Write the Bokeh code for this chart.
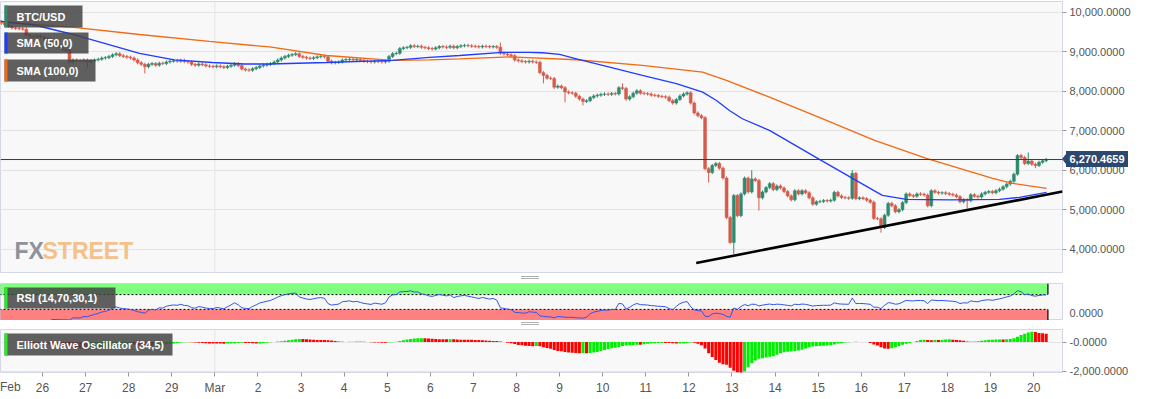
import numpy as np
import pandas as pd
from bokeh.plotting import figure
from bokeh.models import (Range1d, FixedTicker, NumeralTickFormatter, Span, Label,
                          BoxAnnotation, ColumnDataSource, Div)
from bokeh.layouts import column
from bokeh.embed import file_html
from bokeh.resources import INLINE

# ---------------- data (2-hour candles, closes) ----------------
c_feb25 = [9720, 9680, 9640, 9600, 9590, 9580, 9570, 9420, 9390, 9380, 9400, 9370]
c_feb26 = [9340, 9300, 9250, 9200, 9120, 9060, 9030, 8740, 8790, 8770, 8760, 8790]
c_feb27 = [8740, 8770, 8790, 8810, 8840, 8850, 8880, 8920, 8950, 8900, 8880, 8860]
c_feb28 = [8840, 8790, 8720, 8680, 8620, 8680, 8700, 8660, 8710, 8700, 8740, 8760]
c_feb29 = [8770, 8760, 8780, 8750, 8740, 8680, 8660, 8690, 8670, 8640, 8630, 8620]
c_mar01 = [8640, 8620, 8600, 8630, 8660, 8700, 8650, 8560, 8540, 8530, 8570, 8600]
c_mar02 = [8640, 8660, 8680, 8700, 8740, 8790, 8840, 8880, 8910, 8930, 8950, 8880]
c_mar03 = [8860, 8840, 8830, 8850, 8870, 8880, 8870, 8760, 8720, 8730, 8740, 8790]
c_mar04 = [8800, 8810, 8790, 8800, 8780, 8760, 8750, 8740, 8760, 8750, 8740, 8760]
c_mar05 = [8880, 8950, 8960, 9080, 9100, 9110, 9150, 9130, 9140, 9110, 9100, 9080]
c_mar06 = [9070, 9100, 9130, 9120, 9110, 9140, 9100, 9130, 9150, 9160, 9150, 9140]
c_mar07 = [9130, 9120, 9140, 9130, 9120, 9130, 9110, 8960, 8940, 8920, 8900, 8790]
c_mar08 = [8770, 8750, 8740, 8760, 8740, 8730, 8470, 8400, 8330, 8320, 8100, 8130]
c_mar09 = [8090, 7980, 7960, 7950, 7870, 7800, 7740, 7760, 7840, 7880, 7900, 7920]
c_mar10 = [7930, 7920, 7940, 7930, 8090, 8070, 7800, 7860, 7950, 8010, 7950, 7940]
c_mar11 = [7930, 7900, 7890, 7870, 7860, 7850, 7760, 7700, 7790, 7880, 7930, 7960]
c_mar12 = [7700, 7450, 7380, 7330, 6040, 5940, 6120, 6170, 6050, 5800, 4800, 4170]
c_mar13 = [5360, 4850, 5400, 5800, 5450, 5780, 5740, 5300, 5450, 5560, 5660, 5510]
c_mar14 = [5600, 5550, 5460, 5350, 5250, 5480, 5400, 5480, 5430, 5300, 5140, 5200]
c_mar15 = [5210, 5230, 5220, 5240, 5440, 5350, 5310, 5300, 5290, 5920, 5280, 5300]
c_mar16 = [5280, 5240, 5190, 4780, 4770, 4550, 4860, 5160, 5100, 4950, 5000, 5180]
c_mar17 = [5400, 5360, 5340, 5400, 5390, 5370, 5100, 5480, 5440, 5420, 5430, 5410]
c_mar18 = [5390, 5370, 5330, 5200, 5250, 5230, 5380, 5340, 5320, 5400, 5440, 5460]
c_mar19 = [5430, 5480, 5520, 5580, 5650, 5720, 5900, 6370, 6320, 6170, 6230, 6150]
c_mar20 = [6120, 6200, 6240, 6270.4659]
first_open = 9760

# notable wicks (candle index -> price)
wick_high = {139: 9230, 173: 8200, 209: 6000, 237: 6000, 286: 6450}
wick_low = {24: 8580, 40: 8450, 151: 8200, 157: 7720, 162: 7640, 197: 5690,
            204: 3880, 211: 4980, 245: 4420, 269: 5030, 288: 6050}

# moving averages (days since Feb 25, price)
sma50_days = [0.00, 0.81, 1.62, 2.44, 3.25, 4.06, 4.94, 5.69, 6.27, 7.59, 9.12, 9.98,
              10.68, 11.67, 12.30, 12.60, 13.00, 13.39, 14.16, 14.92, 15.71, 16.32,
              16.64, 16.94, 17.24, 17.87, 18.27, 19.03, 19.96, 20.49, 21.05, 22.05,
              23.21, 23.67, 24.30]
sma50_vals = [9777, 9676, 9461, 9208, 8955, 8791, 8727, 8689, 8689, 8727, 8778, 8854,
              8904, 8981, 8981, 8973, 8930, 8821, 8609, 8399, 8189, 7976,
              7766, 7513, 7303, 7007, 6754, 6273, 5691, 5362, 5261, 5249,
              5261, 5312, 5438]
sma100_days = [0.00, 1.62, 3.25, 4.87, 6.27, 7.59, 9.12, 9.98, 10.68, 11.84, 13.39,
               14.92, 16.32, 16.87, 17.87, 19.08, 20.31, 21.51, 22.28, 23.05, 23.51, 24.30]
sma100_vals = [9752, 9626, 9436, 9259, 9120, 8904, 8778, 8791, 8816, 8867, 8796,
               8652, 8482, 8272, 7850, 7311, 6754, 6299, 6046, 5793, 5666, 5540]

trend_days = [16.17, 24.67]
trend_vals = [3650, 5461]

day_labels = ["Feb", "26", "27", "28", "29", "Mar", "2", "3", "4", "5", "6", "7", "8",
              "9", "10", "11", "12", "13", "14", "15", "16", "17", "18", "19", "20"]
price_ticks = [4000, 5000, 6000, 7000, 8000, 9000, 10000]
ewo_ticks = [0, -2000]
ewo_tick_text = {0: "-0.0000", -2000: "-2,000.0000"}
rsi_upper, rsi_lower = 70, 30

# ---------------- derived series ----------------
closes = np.array(c_feb25 + c_feb26 + c_feb27 + c_feb28 + c_feb29 + c_mar01 + c_mar02 +
                  c_mar03 + c_mar04 + c_mar05 + c_mar06 + c_mar07 + c_mar08 + c_mar09 +
                  c_mar10 + c_mar11 + c_mar12 + c_mar13 + c_mar14 + c_mar15 + c_mar16 +
                  c_mar17 + c_mar18 + c_mar19 + c_mar20, dtype=float)
n = len(closes)
opens = np.concatenate([[first_open], closes[:-1]])
WICK = 40  # default small wick (style)
highs = np.maximum(opens, closes) + WICK
lows = np.minimum(opens, closes) - WICK
for i, v in wick_high.items():
    highs[i] = v
for i, v in wick_low.items():
    lows[i] = v
t = (np.arange(n) + 0.5) / 12.0

GREEN, RED = "#2f8a6f", "#d55b4b"
ccol = np.where(closes >= opens, GREEN, RED)
candles = ColumnDataSource(dict(t=t, top=np.maximum(opens, closes), bot=np.minimum(opens, closes),
                                hi=highs, lo=lows, col=ccol))

s = pd.Series(closes)
dlt = s.diff()
au = dlt.clip(lower=0).ewm(alpha=1 / 14, adjust=False, min_periods=14).mean()
ad = (-dlt).clip(lower=0).ewm(alpha=1 / 14, adjust=False, min_periods=14).mean()
rsi = (100 - 100 / (1 + au / ad)).to_numpy()

med = pd.Series((highs + lows) / 2)
ewo = (med.rolling(5, min_periods=1).mean() - med.rolling(34, min_periods=1).mean()).to_numpy()
ecol = np.where(np.concatenate([[0], np.diff(ewo)]) >= 0, "#00ee00", "#ff0000")

# ---------------- layout constants ----------------
FW = 1062
X0, X1 = 0.025, 24.67
FH1, FH2, FH3 = 272, 37, 43
TOP1, TOP2, TOP3 = 1, 10, 9
Y1 = (3385, 10271)
Y2 = (0, 100)
Y3 = (-2103, 862)
BG = "#f8f8f8"
OUT = "#d4d7e6"
GRID = "#e4e4e4"
FONT = "Liberation Sans"


def fx(px):
    return X0 + px * (X1 - X0) / FW


def fy(py, yr, fh):
    return yr[1] - py * (yr[1] - yr[0]) / fh


def base_fig(fh, yr, top, bottom, xaxis):
    p = figure(frame_width=FW, frame_height=fh, x_range=Range1d(X0, X1),
               y_range=Range1d(*yr), y_axis_location="right",
               x_axis_location="below" if xaxis else None,
               toolbar_location=None, output_backend="svg",
               min_border_left=0, min_border_right=84, min_border_top=top,
               min_border_bottom=bottom, background_fill_color=BG,
               border_fill_color="white", outline_line_color=OUT)
    p.xgrid.visible = False
    p.ygrid.grid_line_color = GRID
    ax = p.yaxis[0]
    ax.axis_line_color = None
    ax.major_tick_out = 4
    ax.major_tick_in = 0
    ax.major_tick_line_color = "#999999"
    ax.minor_tick_line_color = None
    ax.major_label_text_font_size = "11px"
    ax.major_label_text_color = "#555555"
    ax.major_label_text_font = FONT
    ax.major_label_standoff = 3
    p.add_layout(Span(location=5, dimension="height", line_color=GRID, line_width=1,
                      level="underlay"))
    return p


def legend_box(p, yr, fh, py0, py1, px1, bar_color, text):
    p.add_layout(BoxAnnotation(left=fx(4), right=fx(px1), top=fy(py0, yr, fh),
                               bottom=fy(py1, yr, fh), fill_color="#444444",
                               fill_alpha=0.85, line_color=None))
    p.add_layout(BoxAnnotation(left=fx(4), right=fx(7), top=fy(py0, yr, fh),
                               bottom=fy(py1, yr, fh), fill_color=bar_color,
                               fill_alpha=1, line_color=None))
    p.add_layout(Label(x=fx(16), y=fy((py0 + py1) / 2, yr, fh), text=text,
                       text_baseline="middle", text_color="white", text_font=FONT,
                       text_font_size="11px", text_font_style="bold"))


def overlay(html, left, top, w, h, extra=None):
    st = {"position": "absolute", "left": f"{left}px", "top": f"{top}px", "z-index": "10"}
    if extra:
        st.update(extra)
    return Div(text=html, width=w, height=h, styles=st, margin=0)


# ---------------- main price panel ----------------
p1 = base_fig(FH1, Y1, TOP1, 0, False)
p1.yaxis.ticker = FixedTicker(ticks=price_ticks)
p1.ygrid.ticker = FixedTicker(ticks=price_ticks)
p1.yaxis.formatter = NumeralTickFormatter(format="0,0.0000")

# logo
p1.add_layout(Label(x=fx(14), y=fy(FH1 - 23, Y1, FH1), text="FX", text_color="#8e929a",
                    text_font=FONT, text_font_size="23px", text_font_style="bold",
                    text_baseline="alphabetic"))
p1.add_layout(Label(x=fx(42), y=fy(FH1 - 23, Y1, FH1), text="STREET", text_color="#f3c189",
                    text_font=FONT, text_font_size="23px", text_font_style="bold",
                    text_baseline="alphabetic"))

p1.segment(x0="t", y0="lo", x1="t", y1="hi", color="col", line_width=1, source=candles)
p1.vbar(x="t", width=0.068, top="top", bottom="bot", fill_color="col", line_color="col",
        line_width=0.5, source=candles)
p1.line(sma100_days, sma100_vals, line_color="#f26a13", line_width=1.3)
p1.line(sma50_days, sma50_vals, line_color="#1f3cff", line_width=1.3)
p1.line(trend_days, trend_vals, line_color="black", line_width=2.6)
last = float(closes[-1])
p1.add_layout(Span(location=last, dimension="width", line_color="#2a3d5f", line_width=1))

legend_box(p1, Y1, FH1, 4, 26, 82, "#2f8a6f", "BTC/USD")
legend_box(p1, Y1, FH1, 31, 52, 88, "#1f3cff", "SMA (50,0)")
legend_box(p1, Y1, FH1, 58, 80, 95, "#f26a13", "SMA (100,0)")

# ---------------- RSI panel ----------------
p2 = base_fig(FH2, Y2, TOP2, 0, False)
p2.yaxis.ticker = FixedTicker(ticks=[0])
p2.yaxis.formatter = NumeralTickFormatter(format="0,0.0000")
p2.ygrid.visible = False
tl, tr = t[0] - 0.04, t[-1] + 0.04
p2.quad(left=[tl], right=[tr], bottom=[rsi_upper], top=[100], fill_color="#80ff80",
        line_color=None)
p2.quad(left=[tl], right=[tr], bottom=[0], top=[rsi_lower], fill_color="#ff8080",
        line_color=None)
p2.line([tl, tr], [rsi_upper, rsi_upper], line_color="black", line_dash="2 2", line_width=1)
p2.line([tl, tr], [rsi_lower, rsi_lower], line_color="black", line_dash="2 2", line_width=1)
p2.segment(x0=[tl, tr, tl, tr], y0=[rsi_upper, rsi_upper, 0, 0],
           x1=[tl, tr, tl, tr], y1=[100, 100, rsi_lower, rsi_lower],
           line_color="black", line_width=1.2)
p2.line(t, rsi, line_color="#2f55e8", line_width=1)
legend_box(p2, Y2, FH2, 4, 25, 115, "#22ee22", "RSI (14,70,30,1)")

# ---------------- Elliott Wave Oscillator panel ----------------
p3 = base_fig(FH3, Y3, TOP3, 22, True)
p3.yaxis.ticker = FixedTicker(ticks=ewo_ticks)
p3.ygrid.ticker = FixedTicker(ticks=ewo_ticks)
p3.yaxis.major_label_overrides = ewo_tick_text
p3.vbar(x=t, width=0.07, top=ewo, bottom=0, fill_color=ecol, line_color=None)
legend_box(p3, Y3, FH3, 4, 26, 172, "#22ee22", "Elliott Wave Oscillator (34,5)")

xa = p3.xaxis[0]
xa.ticker = FixedTicker(ticks=list(range(1, len(day_labels))))
xa.major_label_overrides = {i: day_labels[i] for i in range(1, len(day_labels))}
xa.axis_line_color = None
xa.major_tick_out = 4
xa.major_tick_in = 0
xa.major_tick_line_color = "#999999"
xa.minor_tick_line_color = None
xa.major_label_text_font_size = "12px"
xa.major_label_text_color = "#555555"
xa.major_label_text_font = FONT
xa.major_label_standoff = 4

# ---------------- HTML overlays outside the plot frames ----------------
price_y = TOP1 + (Y1[1] - last) / (Y1[1] - Y1[0]) * FH1
lbl_font = {"font-family": FONT, "white-space": "nowrap"}
d_price = overlay(f"{last:,.4f}", FW + 4, round(price_y - 8), 62, 16,
                  dict(lbl_font, **{"background-color": "#2c4770", "color": "white",
                                    "font-size": "11px", "font-weight": "bold",
                                    "line-height": "16px", "text-align": "center"}))
d_arrow = overlay("", FW, round(price_y - 5), 0, 0,
                  {"border-top": "5px solid transparent", "border-bottom": "5px solid transparent",
                   "border-right": "4px solid #2c4770"})
gap1 = TOP1 + FH1 + TOP2 / 2
gap2 = TOP1 + FH1 + TOP2 + FH2 + TOP3 / 2
handle = {"border-top": "1px solid #b0b0b0", "border-bottom": "1px solid #b0b0b0"}
d_h1 = overlay("", 521, round(gap1 - 2), 18, 3, handle)
d_h1b = overlay("", 521, round(gap1), 18, 0, {"border-top": "1px solid #b0b0b0"})
d_h2 = overlay("", 521, round(gap2 - 2), 18, 3, handle)
d_h2b = overlay("", 521, round(gap2), 18, 0, {"border-top": "1px solid #b0b0b0"})
x_lbl_top = TOP1 + FH1 + TOP2 + FH2 + TOP3 + FH3 + 7
d_feb = overlay(day_labels[0], 0, x_lbl_top, 30, 16,
                dict(lbl_font, **{"color": "#555555", "font-size": "12px", "line-height": "16px"}))

layout = column(p1, p2, p3, d_price, d_arrow, d_h1, d_h1b, d_h2, d_h2b, d_feb, spacing=0)
open("out.html", "w").write(file_html(layout, INLINE))
